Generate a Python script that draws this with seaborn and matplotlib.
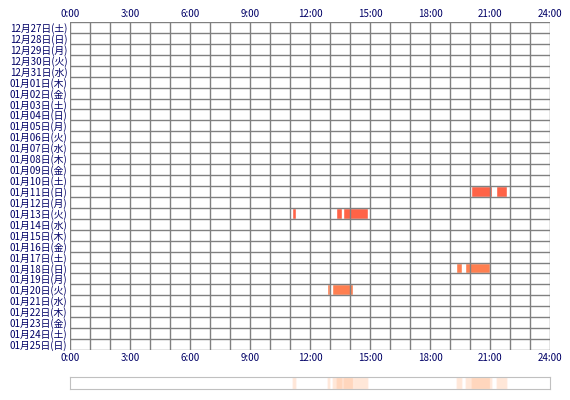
import matplotlib
matplotlib.use("Agg")
import matplotlib.pyplot as plt
import seaborn as sns
import pandas as pd

sns.set_style("white")
plt.rcParams['font.family'] = ['Noto Sans CJK JP', 'DejaVu Sans']

dates = ["12月27日(土)","12月28日(日)","12月29日(月)","12月30日(火)","12月31日(水)",
         "01月01日(木)","01月02日(金)","01月03日(土)","01月04日(日)","01月05日(月)",
         "01月06日(火)","01月07日(水)","01月08日(木)","01月09日(金)","01月10日(土)",
         "01月11日(日)","01月12日(月)","01月13日(火)","01月14日(水)","01月15日(木)",
         "01月16日(金)","01月17日(土)","01月18日(日)","01月19日(月)","01月20日(火)",
         "01月21日(水)","01月22日(木)","01月23日(金)","01月24日(土)","01月25日(日)"]
seg_day = ["01月11日(日)","01月11日(日)","01月13日(火)","01月13日(火)","01月13日(火)",
           "01月18日(日)","01月18日(日)","01月20日(火)","01月20日(火)"]
seg_start = [20.03, 21.3, 11.1, 13.3, 13.67, 19.3, 19.75, 12.85, 13.1]
seg_end = [21.1, 21.85, 11.28, 13.6, 14.9, 19.6, 21.0, 13.0, 14.15]
seg_color = ["#ff6347"]*5 + ["#ff7f50"]*4
xticks = [0, 3, 6, 9, 12, 15, 18, 21, 24]
xlabels = ["0:00","3:00","6:00","9:00","12:00","15:00","18:00","21:00","24:00"]

df = pd.DataFrame({"day": seg_day, "start": seg_start, "end": seg_end, "color": seg_color})
df["row"] = df["day"].map({d: i for i, d in enumerate(dates)})

fig = plt.figure(figsize=(5.7, 4), dpi=100)
ax = fig.add_axes([70/570, 1-350/400, 480/570, 328/400])
ax.barh(df["row"], df["end"]-df["start"], left=df["start"], height=1.0,
        color=df["color"], zorder=1)
ax.set_xlim(0, 24)
ax.set_ylim(len(dates)-0.5, -0.5)
for h in range(25):
    ax.axvline(h, color="#808080", lw=1, zorder=2)
for r in range(len(dates)+1):
    ax.axhline(r-0.5, color="#808080", lw=1, zorder=2)
ax.set_yticks(range(len(dates)))
ax.set_yticklabels(dates, fontsize=7, color="#000066")
ax.set_xticks(xticks)
ax.set_xticklabels(xlabels, fontsize=7, color="#000066")
ax.tick_params(length=0, pad=2, labeltop=True, top=False)
for s in ax.spines.values():
    s.set_visible(False)

ax2 = fig.add_axes([70/570, 1-389/400, 480/570, 12/400])
ax2.barh([0]*len(df), df["end"]-df["start"], left=df["start"], height=1,
         color="#ffb080", alpha=0.3)
ax2.set_xlim(0, 24)
ax2.set_ylim(-0.5, 0.5)
ax2.set_xticks([]); ax2.set_yticks([])
for s in ax2.spines.values():
    s.set_color("#c0c0c0")

fig.savefig("out.png", dpi=100)
